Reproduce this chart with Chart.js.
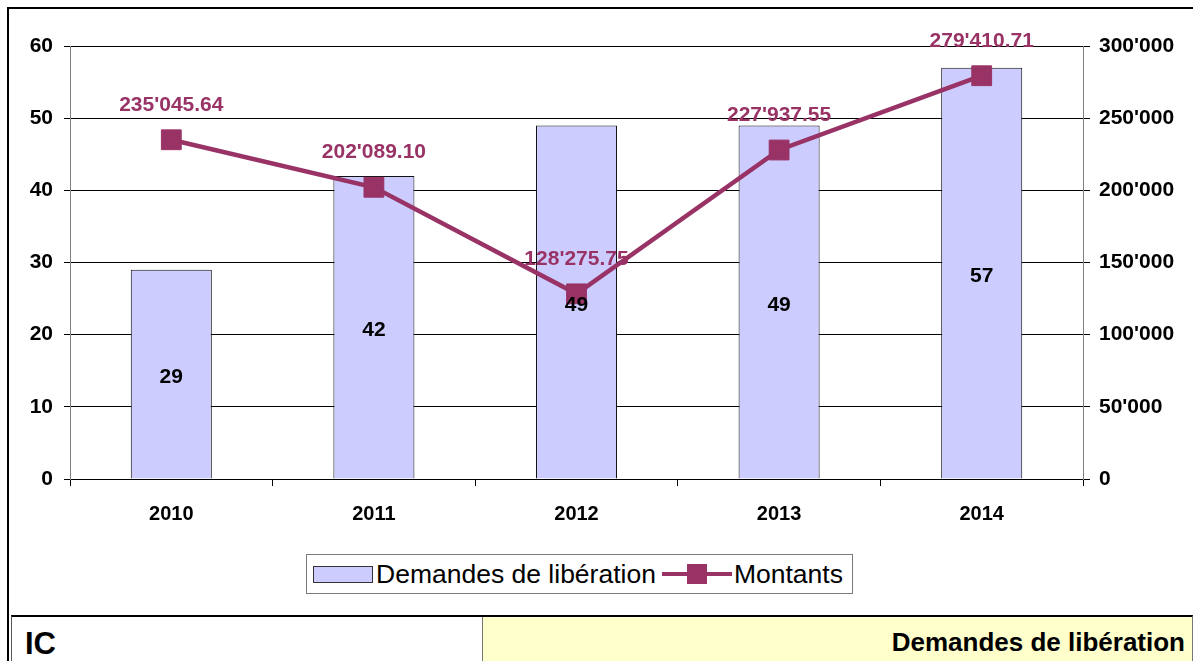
<!DOCTYPE html>
<html>
<head>
<meta charset="utf-8">
<script src="https://cdn.jsdelivr.net/npm/chart.js@4/dist/chart.umd.min.js"></script>
<style>
  html, body { margin:0; padding:0; background:#fff; }
  body { width:1193px; height:661px; position:relative; overflow:hidden; font-family:'Liberation Sans', Arial, sans-serif; }
  #wrap { position:absolute; left:0; top:0; width:1193px; height:661px; }
  #frameTop { position:absolute; left:7px; top:7px; width:1190px; height:2px; background:#000; }
  #frameLeft { position:absolute; left:7px; top:7px; width:2px; height:660px; background:#000; }
  #legend { position:absolute; left:306px; top:554px; width:545px; height:38px; border:1px solid #7a7a7a; background:#fff; display:flex; align-items:center; }
  #legend .txt { font-size:26.5px; color:#000; line-height:1; white-space:nowrap; }
  #patch { width:58px; height:15px; background:#CCCCFF; border:1px solid #333; margin-left:6px; margin-right:3px; }
  #lineKey { position:relative; width:70px; height:20px; margin-left:6px; margin-right:2px; }
  #lineKey .l { position:absolute; left:0; right:0; top:8px; height:4px; background:#993366; }
  #lineKey .s { position:absolute; left:25px; top:0; width:20px; height:20px; background:#993366; }
  #table { position:absolute; left:11px; top:615px; width:1180px; height:50px; border-top:2px solid #000; border-left:1px solid #555; border-right:1px solid #777; }
  #cellL { position:absolute; left:0; top:0; width:470px; height:100%; background:#fff; border-right:1px solid #777; }
  #cellR { position:absolute; left:471px; top:0; right:0; height:100%; background:#FFFFCC; }
  #ic { position:absolute; left:13px; top:9px; font-size:31px; font-weight:bold; color:#000; }
  #title { position:absolute; right:7px; top:10px; font-size:26px; font-weight:bold; color:#000; white-space:nowrap; }
</style>
</head>
<body>
<div id="wrap"><canvas id="c" width="1193" height="661"></canvas></div>
<div id="frameTop"></div>
<div id="frameLeft"></div>
<div id="legend">
  <div id="patch"></div><span class="txt">Demandes de libération</span>
  <div id="lineKey"><div class="l"></div><div class="s"></div></div><span class="txt">Montants</span>
</div>
<div id="table">
  <div id="cellL"><div id="ic">IC</div></div>
  <div id="cellR"><div id="title">Demandes de libération</div></div>
</div>
<script>
// ---- data ----
const years = ['2010', '2011', '2012', '2013', '2014'];
const demandes = [29, 42, 49, 49, 57];
const montants = [235045.64, 202089.10, 128275.75, 227937.55, 279410.71];
const leftTicks = [0, 10, 20, 30, 40, 50, 60];
const rightTicks = [0, 50000, 100000, 150000, 200000, 250000, 300000];

const FONT = "'Liberation Sans', Arial, sans-serif";
const LINE_COLOR = '#993366';

function swissInt(n) {
  const s = Math.round(n).toString();
  return s.replace(/\B(?=(\d{3})+(?!\d))/g, "'");
}
function swissDec(n) {
  const parts = n.toFixed(2).split('.');
  return parts[0].replace(/\B(?=(\d{3})+(?!\d))/g, "'") + '.' + parts[1];
}

const labelPlugin = {
  id: 'valueLabels',
  afterDatasetsDraw(chart) {
    const ctx = chart.ctx;
    ctx.save();
    ctx.textAlign = 'center';
    ctx.textBaseline = 'middle';
    // line labels
    const lineMeta = chart.getDatasetMeta(1);
    ctx.font = 'bold 21px ' + FONT;
    ctx.fillStyle = LINE_COLOR;
    lineMeta.data.forEach((el, i) => {
      ctx.fillText(swissDec(montants[i]), el.x, el.y - 35);
    });
    // bar labels
    const barMeta = chart.getDatasetMeta(0);
    ctx.font = 'bold 21px ' + FONT;
    ctx.fillStyle = '#000';
    barMeta.data.forEach((el, i) => {
      ctx.fillText(String(demandes[i]), el.x, (el.y + el.base) / 2 + 3);
    });
    ctx.restore();
  }
};

new Chart(document.getElementById('c'), {
  data: {
    labels: years,
    datasets: [
      {
        type: 'bar',
        label: 'Demandes de libération',
        data: demandes,
        yAxisID: 'y',
        backgroundColor: '#CCCCFF',
        borderColor: '#111',
        borderWidth: 1,
        categoryPercentage: 1.0,
        barPercentage: 0.4,
        order: 2
      },
      {
        type: 'line',
        label: 'Montants',
        data: montants,
        yAxisID: 'y1',
        borderColor: LINE_COLOR,
        backgroundColor: LINE_COLOR,
        borderWidth: 4.5,
        pointStyle: 'rect',
        pointRadius: 14,
        pointBorderWidth: 1,
        pointBackgroundColor: LINE_COLOR,
        pointBorderColor: LINE_COLOR,
        tension: 0,
        order: 1
      }
    ]
  },
  options: {
    responsive: false,
    animation: false,
    devicePixelRatio: 1,
    layout: { padding: { top: 46, left: 0, right: 0, bottom: 0 } },
    plugins: { legend: { display: false }, tooltip: { enabled: false } },
    scales: {
      x: {
        offset: true,
        grid: { offset: true, drawOnChartArea: false, drawTicks: true, tickLength: 7, color: '#000', lineWidth: 1 },
        border: { color: '#000', width: 1 },
        ticks: { color: '#000', font: { family: FONT, size: 20, weight: 'bold' }, padding: 16, maxRotation: 0 },
        afterFit(s) { s.height = 182; }
      },
      y: {
        position: 'left',
        min: leftTicks[0],
        max: leftTicks[leftTicks.length - 1],
        afterBuildTicks(s) { s.ticks = leftTicks.map(v => ({ value: v })); },
        grid: { color: '#000', lineWidth: 1, tickLength: 6, drawTicks: true },
        border: { color: '#808080', width: 1 },
        ticks: { color: '#000', font: { family: FONT, size: 21, weight: 'bold' }, padding: 11, callback: v => String(v) },
        afterFit(s) { s.width = 70; }
      },
      y1: {
        position: 'right',
        min: rightTicks[0],
        max: rightTicks[rightTicks.length - 1],
        afterBuildTicks(s) { s.ticks = rightTicks.map(v => ({ value: v })); },
        grid: { drawOnChartArea: false, color: '#000', lineWidth: 1, tickLength: 7, drawTicks: true },
        border: { color: '#808080', width: 1 },
        ticks: { color: '#000', font: { family: FONT, size: 21, weight: 'bold' }, padding: 9, callback: v => swissInt(v) },
        afterFit(s) { s.width = 110; }
      }
    }
  },
  plugins: [labelPlugin]
});
</script>
</body>
</html>
